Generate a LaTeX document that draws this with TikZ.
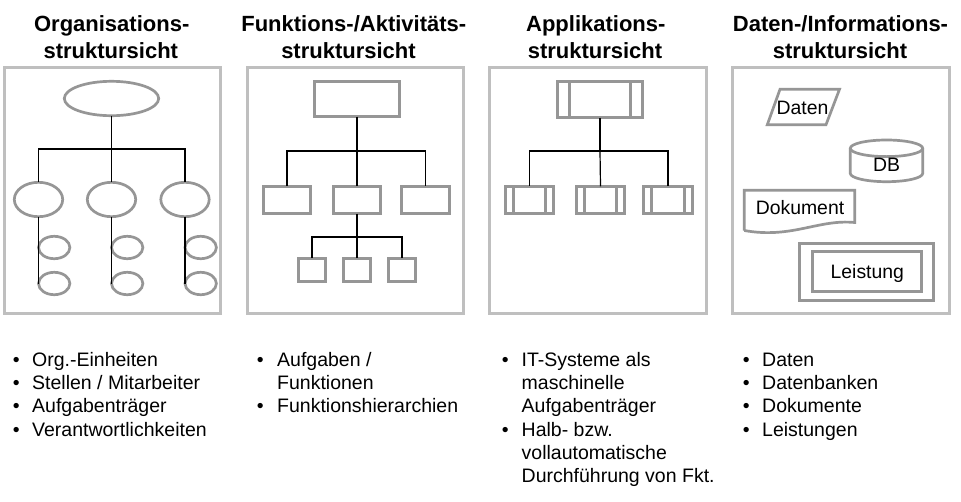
\documentclass[tikz,border=0pt]{standalone}
\usepackage{fontspec}
\setmainfont{Liberation Sans}
\usetikzlibrary{shapes.geometric,calc}
\definecolor{pbord}{HTML}{BFBFBF}
\definecolor{sgray}{HTML}{969696}
\begin{document}
\begin{tikzpicture}[x=1pt,y=-1pt,
  panel/.style={draw=pbord,line width=3pt},
  shp/.style={draw=sgray,line width=2.7pt,inner sep=0pt,outer sep=0pt},
  oval/.style n args={2}{shp,ellipse,minimum width=#1,minimum height=#2},
  box/.style n args={2}{shp,rectangle,minimum width=#1,minimum height=#2},
  appbox/.style n args={3}{box={#1}{#2},
    path picture={
      \draw[draw=sgray,line width=2.7pt]
        ([xshift=#3]path picture bounding box.north west) -- ([xshift=#3]path picture bounding box.south west)
        ([xshift=-#3]path picture bounding box.north east) -- ([xshift=-#3]path picture bounding box.south east);}},
  conn/.style={draw=black,line width=1.2pt},
  ttl/.style={font=\fontsize{22}{26}\selectfont\bfseries,anchor=base,inner sep=0pt},
  btxt/.style={font=\fontsize{19.5}{23}\selectfont,anchor=base west,inner sep=0pt},
  stxt/.style={font=\fontsize{19.4}{23}\selectfont,anchor=base,inner sep=0pt},
]
\useasboundingbox (0,0) rectangle (961,501);
\fill[white] (0,0) rectangle (961,501);

% titles
\node[ttl] (t1a) at (111.7,31.5) {Organisations-};
\node[ttl] (t1b) at (110.8,58) {struktursicht};
\node[ttl] (t2a) at (353.8,31.5) {Funktions-/Aktivitäts-};
\node[ttl] (t2b) at (348.5,58) {struktursicht};
\node[ttl] (t3a) at (595.8,31.5) {Applikations-};
\node[ttl] (t3b) at (595,58) {struktursicht};
\node[ttl] (t4a) at (840.5,31.5) {Daten-/Informations-};
\node[ttl] (t4b) at (840,58) {struktursicht};

% panels
\draw[panel] (4.2,67.5) rectangle (220.8,313.5);
\draw[panel] (247.3,67.5) rectangle (463.8,313.5);
\draw[panel] (489.2,67.5) rectangle (706.5,313.5);
\draw[panel] (732.5,67.5) rectangle (949.8,313.5);

% panel 1: organisation
\node[oval={94.4}{34.4}] (o0) at (111.5,98.5) {};
\node[oval={48.4}{34.4}] (o1) at (38.5,199.5) {};
\node[oval={48.4}{34.4}] (o2) at (111.5,199.5) {};
\node[oval={48.4}{34.4}] (o3) at (185,199.5) {};
\coordinate (j1) at (111.5,149);
\node[oval={31.4}{22.4}] (s11) at (54.2,247.5) {};
\node[oval={31.4}{22.4}] (s12) at (54.2,283.5) {};
\node[oval={31.4}{22.4}] (s21) at (127.2,247.5) {};
\node[oval={31.4}{22.4}] (s22) at (127.2,283.5) {};
\node[oval={31.4}{22.4}] (s31) at (200.7,247.5) {};
\node[oval={31.4}{22.4}] (s32) at (200.7,283.5) {};
\draw[conn] (o0.south) -- (j1);
\draw[conn] (j1) -| (o1.north);
\draw[conn] (j1) -- (o2.north);
\draw[conn] (j1) -| (o3.north);
\draw[conn] (o1.south) -- (o1.south |- s12.west);
\draw[conn] (o2.south) -- (o2.south |- s22.west);
\draw[conn] (o3.south) -- (o3.south |- s32.west);

% panel 2: functions
\node[box={85.4}{35.4}] (f0) at (357,99) {};
\node[box={47.4}{27.4}] (f1) at (287,200) {};
\node[box={47.4}{27.4}] (f2) at (357,200) {};
\node[box={47.4}{27.4}] (f3) at (425.5,200) {};
\node[box={27.4}{23.4}] (g1) at (312,270) {};
\node[box={27.4}{23.4}] (g2) at (357,270) {};
\node[box={27.4}{23.4}] (g3) at (402,270) {};
\coordinate (j2) at (357,151);
\coordinate (j3) at (357,237);
\draw[conn] (f0.south) -- (j2);
\draw[conn] (j2) -| (f1.north);
\draw[conn] (j2) -- (f2.north);
\draw[conn] (j2) -| (f3.north);
\draw[conn] (f2.south) -- (j3);
\draw[conn] (j3) -| (g1.north);
\draw[conn] (j3) -- (g2.north);
\draw[conn] (j3) -| (g3.north);

% panel 3: applications
\node[appbox={85.4}{36.4}{12.5pt}] (a0) at (600,99.5) {};
\node[appbox={48.4}{27.4}{8pt}] (b1) at (529.5,200) {};
\node[appbox={48.4}{27.4}{8pt}] (b2) at (600.5,200) {};
\node[appbox={48.4}{27.4}{8pt}] (b3) at (668,200) {};
\coordinate (j4) at (600,151);
\draw[conn] (a0.south) -- (j4);
\draw[conn] (j4) -| (b1.north);
\draw[conn] (j4) -- (b2.north);
\draw[conn] (j4) -| (b3.north);

% panel 4: data
\draw[shp] (780,89.3) -- (839.5,89.3) -- (826,124.7) -- (767.3,124.7) -- cycle;
\node[stxt] (daten) at (802.5,114.3) {Daten};
\draw[shp] (850.3,148.3) -- (850.3,173.4) arc[start angle=180,end angle=360,x radius=36.2pt,y radius=8.3pt] -- (922.7,148.3);
\draw[shp] (886.5,148.3) ellipse[x radius=36.2pt,y radius=8.3pt];
\node[stxt] (db) at (886.5,171.7) {DB};
\draw[shp] (744.3,230.5) -- (744.3,190.3) -- (854.7,190.3) -- (854.7,222.5)
  .. controls (818,219) and (792,239) .. (744.3,230.5);
\node[stxt] (dok) at (800,214) {Dokument};
\draw[shp] (799.3,243.3) rectangle (933.7,300.7);
\draw[shp] (812.3,251.3) rectangle (921.7,291.7);
\node[stxt] (leist) at (867.3,278.3) {Leistung};

% bullet lists
\foreach \x/\y in {12.7/366,12.7/389.3,12.7/412.7,12.7/436,
                   256.7/366,256.7/412.7,
                   501.7/366,501.7/436,
                   742.7/366,742.7/389.3,742.7/412.7,742.7/436}
  \node[btxt] at (\x,\y) {•};
\node[btxt] (l11) at (32,366) {Org.-Einheiten};
\node[btxt] (l12) at (32,389.3) {Stellen / Mitarbeiter};
\node[btxt] (l13) at (32,412.7) {Aufgabenträger};
\node[btxt] (l14) at (32,436) {Verantwortlichkeiten};
\node[btxt] (l21) at (277,366) {Aufgaben /};
\node[btxt] (l22) at (277,389.3) {Funktionen};
\node[btxt] (l23) at (277,412.7) {Funktionshierarchien};
\node[btxt] (l31) at (521.5,366) {IT-Systeme als};
\node[btxt] (l32) at (521.5,389.3) {maschinelle};
\node[btxt] (l33) at (521.5,412.7) {Aufgabenträger};
\node[btxt] (l34) at (521.5,436) {Halb- bzw.};
\node[btxt] (l35) at (521.5,459.3) {vollautomatische};
\node[btxt] (l36) at (521.5,482.7) {Durchführung von Fkt.};
\node[btxt] (l41) at (762,366) {Daten};
\node[btxt] (l42) at (762,389.3) {Datenbanken};
\node[btxt] (l43) at (762,412.7) {Dokumente};
\node[btxt] (l44) at (762,436) {Leistungen};
\end{tikzpicture}
\end{document}
